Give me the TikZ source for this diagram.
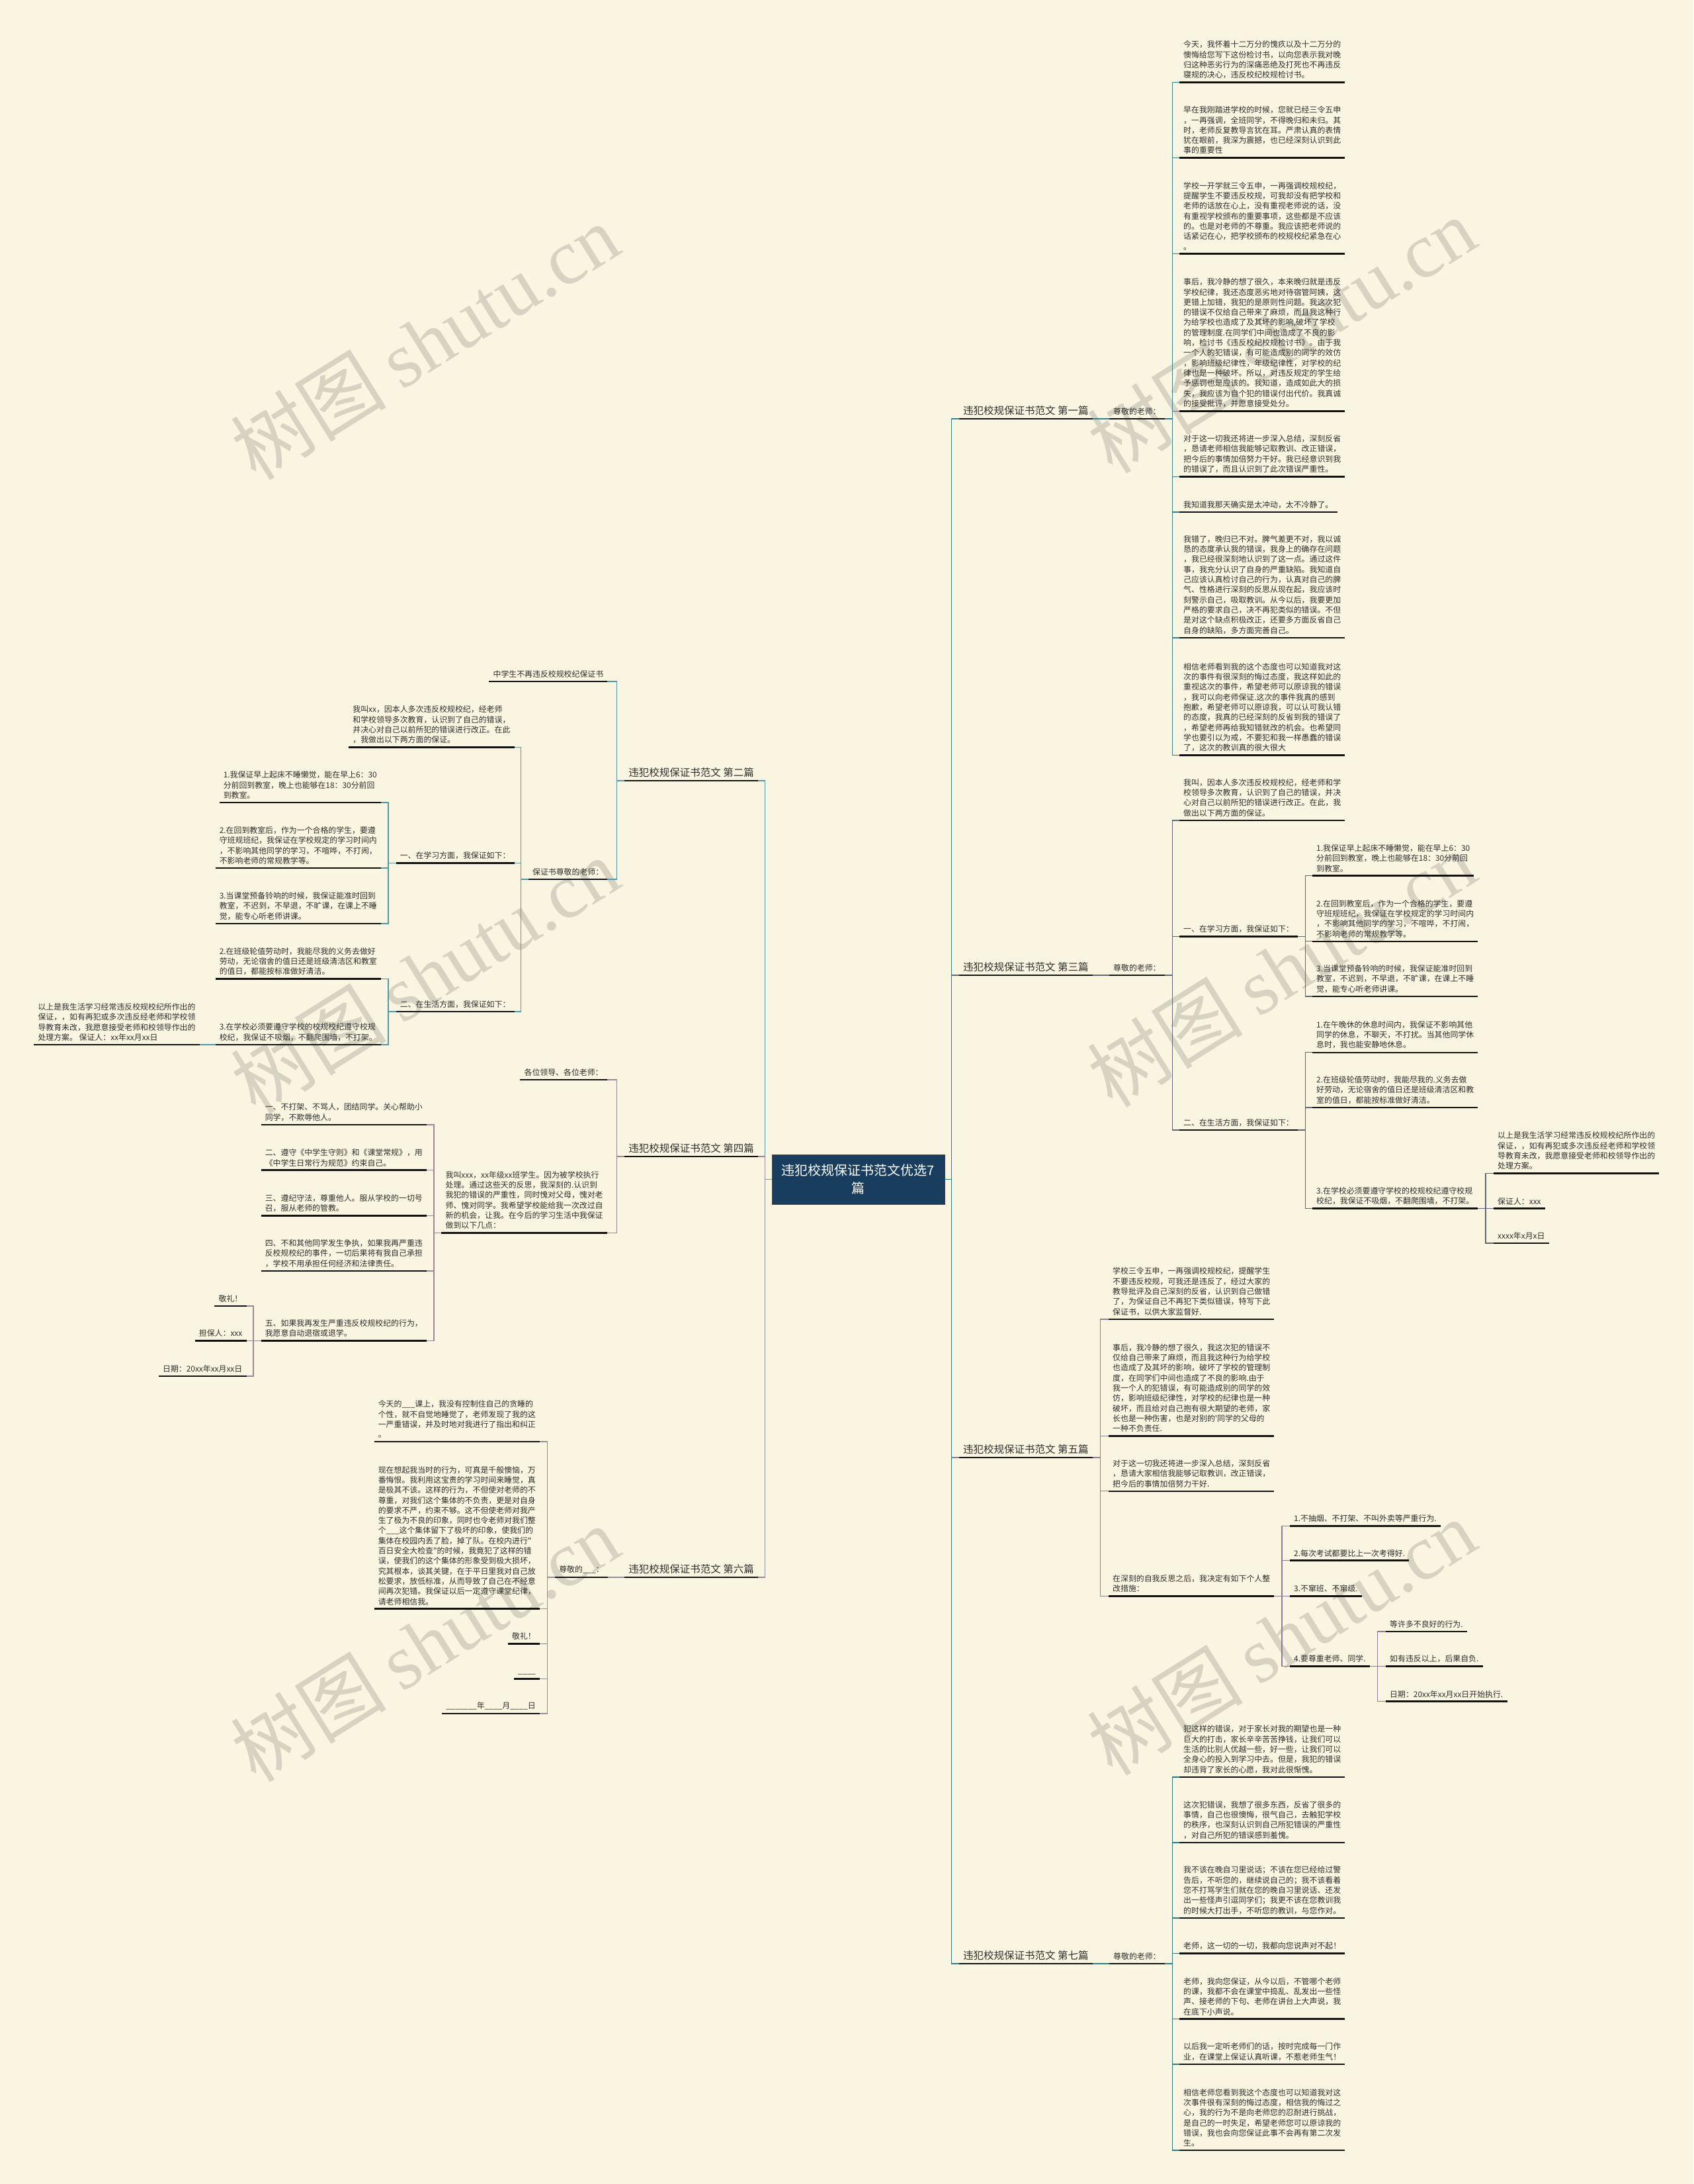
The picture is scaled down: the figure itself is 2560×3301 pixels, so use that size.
\documentclass[tikz,border=0pt]{standalone}
\usepackage{fontspec}
\newfontfamily\cjk{Noto Sans CJK SC}
\newfontfamily\wmserif{Liberation Serif}
\definecolor{bg}{HTML}{FAF5E0}
\definecolor{txt}{HTML}{2E2E2E}
\definecolor{ulc}{HTML}{111111}
\definecolor{rootc}{HTML}{183D5E}
\definecolor{cA}{HTML}{35808C}
\definecolor{cB}{HTML}{5297A3}
\definecolor{cC}{HTML}{5C6878}
\definecolor{cD}{HTML}{9C8599}
\definecolor{cE}{HTML}{8E7C98}
\definecolor{cF}{HTML}{8D8F9C}
\definecolor{cG}{HTML}{2D7B84}
\definecolor{wm}{HTML}{D6D3C2}
\newcommand\leaffont{\cjk\fontsize{11.9}{15.3}\selectfont}
\newcommand\rleaf[4]{\node[leaf,anchor=south west] (#1) at (#2,#3) {#4};}
\newcommand\lleaf[4]{\node[leaf,anchor=south east] (#1) at (#2,#3) {#4};}
\newcommand\linkr[3]{\draw[#1] (#2.south east) -- ++(11.5,0) |- (#3.south west);}
\newcommand\linkl[3]{\draw[#1] (#2.south west) -- ++(-11.5,0) |- (#3.south east);}
\tikzset{
 ul/.style={draw=ulc,line width=2.6pt},
 leaf/.style={font=\leaffont,text=txt,align=left,inner xsep=6pt,inner ysep=5.5pt,
   append after command={(\tikzlastnode.south west) edge[ul] (\tikzlastnode.south east)}},
 branch/.style={leaf,font=\cjk\fontsize{15.5}{18}\selectfont,inner ysep=5pt},
 con/.style={line width=1.3pt},
 rootbox/.style={fill=rootc,draw=black!75,line width=0.8pt,text=white,font=\cjk\fontsize{20}{27}\selectfont,align=center,minimum width=261pt,minimum height=75pt,inner sep=4pt},
 wmark/.style={text=wm,rotate=32,inner sep=0pt,font=\cjk\fontsize{118}{118}\selectfont}
}
\begin{document}
\begin{tikzpicture}[x=1pt,y=-1pt]
\useasboundingbox (0,0) rectangle (2560,3301);
\fill[bg] (0,0) rectangle (2560,3301);
% watermarks
\foreach \wx/\wy in {642/516,1937/506,642/1474,1937/1464,642/2484,1937/2474}
  \node[wmark] at (\wx,\wy) {树图\hspace{24pt}{\wmserif shutu.cn}};
% root
\node[rootbox] (root) at (1297.5,1782.5) {违犯校规保证书范文优选7\\篇};
% ===== 第一篇 =====
\node[branch,anchor=south west] (L1) at (1450,633) {违犯校规保证书范文 第一篇};
\rleaf{T1}{1677}{633}{尊敬的老师：}
\rleaf{a1}{1783}{124.6}{今天，我怀着十二万分的愧疚以及十二万分的\\懊悔给您写下这份检讨书，以向您表示我对晚\\归这种恶劣行为的深痛恶绝及打死也不再违反\\寝规的决心，违反校纪校规检讨书。}
\rleaf{a2}{1783}{238.6}{早在我刚踏进学校的时候，您就已经三令五申\\，一再强调，全班同学，不得晚归和未归。其\\时，老师反复教导言犹在耳。严肃认真的表情\\犹在眼前，我深为震撼，也已经深刻认识到此\\事的重要性}
\rleaf{a3}{1783}{383.5}{学校一开学就三令五申，一再强调校规校纪，\\提醒学生不要违反校规，可我却没有把学校和\\老师的话放在心上，没有重视老师说的话，没\\有重视学校颁布的重要事项，这些都是不应该\\的。也是对老师的不尊重。我应该把老师说的\\话紧记在心，把学校颁布的校规校纪紧急在心\\。}
\rleaf{a4}{1783}{621.3}{事后，我冷静的想了很久，本来晚归就是违反\\学校纪律，我还态度恶劣地对待宿管阿姨，这\\更错上加错，我犯的是原则性问题。我这次犯\\的错误不仅给自己带来了麻烦，而且我这种行\\为给学校也造成了及其坏的影响,破坏了学校\\的管理制度.在同学们中间也造成了不良的影\\响，检讨书《违反校纪校规检讨书》。由于我\\一个人的犯错误，有可能造成别的同学的效仿\\，影响班级纪律性，年级纪律性，对学校的纪\\律也是一种破坏。所以，对违反规定的学生给\\予惩罚也是应该的。我知道，造成如此大的损\\失，我应该为自个犯的错误付出代价。我真诚\\的接受批评，并愿意接受处分。}
\rleaf{a5}{1783}{720.5}{对于这一切我还将进一步深入总结，深刻反省\\，恳请老师相信我能够记取教训、改正错误，\\把今后的事情加倍努力干好。我已经意识到我\\的错误了，而且认识到了此次错误严重性。}
\rleaf{a6}{1783}{774}{我知道我那天确实是太冲动，太不冷静了。}
\rleaf{a7}{1783}{964}{我错了，晚归已不对。脾气差更不对，我以诚\\恳的态度承认我的错误，我身上的确存在问题\\，我已经很深刻地认识到了这一点。通过这件\\事，我充分认识了自身的严重缺陷。我知道自\\己应该认真检讨自己的行为，认真对自己的脾\\气、性格进行深刻的反思从现在起，我应该时\\刻警示自己，吸取教训。从今以后，我要更加\\严格的要求自己，决不再犯类似的错误。不但\\是对这个缺点积极改正，还要多方面反省自己\\自身的缺陷，多方面完善自己。}
\rleaf{a8}{1783}{1141.7}{相信老师看到我的这个态度也可以知道我对这\\次的事件有很深刻的悔过态度，我这样如此的\\重视这次的事件，希望老师可以原谅我的错误\\，我可以向老师保证.这次的事件我真的感到\\抱歉，希望老师可以原谅我，可以认可我认错\\的态度，我真的已经深刻的反省到我的错误了\\，希望老师再给我知错就改的机会。也希望同\\学也要引以为戒，不要犯和我一样愚蠢的错误\\了，这次的教训真的很大很大}
% ===== 第三篇 =====
\node[branch,anchor=south west] (L3) at (1450,1474) {违犯校规保证书范文 第三篇};
\rleaf{T3}{1677}{1474}{尊敬的老师：}
\rleaf{c0}{1783}{1240}{我叫，因本人多次违反校规校纪，经老师和学\\校领导多次教育，认识到了自己的错误，并决\\心对自己以前所犯的错误进行改正。在此，我\\做出以下两方面的保证。}
\rleaf{cS}{1783}{1415.6}{一、在学习方面，我保证如下：}
\rleaf{cL}{1783}{1708}{二、在生活方面，我保证如下：}
\rleaf{cS1}{1984}{1323.7}{1.我保证早上起床不睡懒觉，能在早上6：30\\分前回到教室，晚上也能够在18：30分前回\\到教室。}
\rleaf{cS2}{1984}{1422.8}{2.在回到教室后，作为一个合格的学生，要遵\\守班规班纪，我保证在学校规定的学习时间内\\，不影响其他同学的学习，不喧哗，不打闹，\\不影响老师的常规教学等。}
\rleaf{cS3}{1984}{1506}{3.当课堂预备铃响的时候，我保证能准时回到\\教室，不迟到，不早退，不旷课，在课上不睡\\觉，能专心听老师讲课。}
\rleaf{cL1}{1984}{1590.8}{1.在午晚休的休息时间内，我保证不影响其他\\同学的休息，不聊天，不打扰。当其他同学休\\息时，我也能安静地休息。}
\rleaf{cL2}{1984}{1674}{2.在班级轮值劳动时，我能尽我的.义务去做\\好劳动，无论宿舍的值日还是班级清洁区和教\\室的值日，都能按标准做好清洁。}
\rleaf{cL3}{1984}{1826.7}{3.在学校必须要遵守学校的校规校纪遵守校规\\校纪，我保证不吸烟，不翻爬围墙，不打架。}
\rleaf{cX1}{2258}{1773.3}{以上是我生活学习经常违反校规校纪所作出的\\保证，，如有再犯或多次违反经老师和学校领\\导教育未改，我愿意接受老师和校领导作出的\\处理方案。}
\rleaf{cX2}{2258}{1826.7}{保证人：xxx}
\rleaf{cX3}{2258}{1879}{xxxx年x月x日}
% ===== 第五篇 =====
\node[branch,anchor=south west] (L5) at (1450,2203) {违犯校规保证书范文 第五篇};
\rleaf{e1}{1676}{1994}{学校三令五申，一再强调校规校纪，提醒学生\\不要违反校规，可我还是违反了，经过大家的\\教导批评及自己深刻的反省，认识到自己做错\\了，为保证自己不再犯下类似错误，特写下此\\保证书，以供大家监督好.}
\rleaf{e2}{1676}{2170.4}{事后，我冷静的想了很久，我这次犯的错误不\\仅给自己带来了麻烦，而且我这种行为给学校\\也造成了及其坏的影响，破坏了学校的管理制\\度，在同学们中间也造成了不良的影响.由于\\我一个人的犯错误，有可能造成别的同学的效\\仿，影响班级纪律性，对学校的纪律也是一种\\破坏，而且给对自己抱有很大期望的老师，家\\长也是一种伤害，也是对别的'同学的父母的\\一种不负责任.}
\rleaf{e3}{1676}{2253.8}{对于这一切我还将进一步深入总结，深刻反省\\，恳请大家相信我能够记取教训，改正错误，\\把今后的事情加倍努力干好.}
\rleaf{e4}{1676}{2412.3}{在深刻的自我反思之后，我决定有如下个人整\\改措施：}
\rleaf{e41}{1950}{2306.5}{1.不抽烟、不打架、不叫外卖等严重行为.}
\rleaf{e42}{1950}{2358.7}{2.每次考试都要比上一次考得好.}
\rleaf{e43}{1950}{2412.3}{3.不窜班、不窜级.}
\rleaf{e44}{1950}{2518.6}{4.要尊重老师、同学.}
\rleaf{e441}{2095}{2465.9}{等许多不良好的行为.}
\rleaf{e442}{2095}{2518.6}{如有违反以上，后果自负.}
\rleaf{e443}{2095}{2571.7}{日期：20xx年xx月xx日开始执行.}
% ===== 第七篇 =====
\node[branch,anchor=south west] (L7) at (1450,2968) {违犯校规保证书范文 第七篇};
\rleaf{T7}{1677}{2968}{尊敬的老师：}
\rleaf{g1}{1783}{2686}{犯这样的错误，对于家长对我的期望也是一种\\巨大的打击，家长辛辛苦苦挣钱，让我们可以\\生活的比别人优越一些，好一些，让我们可以\\全身心的投入到学习中去。但是，我犯的错误\\却违背了家长的心愿，我对此很惭愧。}
\rleaf{g2}{1783}{2785}{这次犯错误，我想了很多东西，反省了很多的\\事情，自己也很懊悔，很气自己，去触犯学校\\的秩序，也深刻认识到自己所犯错误的严重性\\，对自己所犯的错误感到羞愧。}
\rleaf{g3}{1783}{2899}{我不该在晚自习里说话；不该在您已经给过警\\告后，不听您的，继续说自己的；我不该看着\\您不打骂学生们就在您的晚自习里说话、还发\\出一些怪声引逗同学们；我更不该在您教训我\\的时候大打出手，不听您的教训，与您作对。}
\rleaf{g4}{1783}{2952.3}{老师，这一切的一切，我都向您说声对不起！}
\rleaf{g5}{1783}{3051.7}{老师，我向您保证，从今以后，不管哪个老师\\的课，我都不会在课堂中捣乱、乱发出一些怪\\声、接老师的下句、老师在讲台上大声说，我\\在底下小声说。}
\rleaf{g6}{1783}{3120}{以后我一定听老师们的话，按时完成每一门作\\业，在课堂上保证认真听课，不惹老师生气！}
\rleaf{g7}{1783}{3250}{相信老师您看到我这个态度也可以知道我对这\\次事件很有深刻的悔过态度，相信我的悔过之\\心，我的行为不是向老师您的忍耐进行挑战，\\是自己的一时失足，希望老师您可以原谅我的\\错误，我也会向您保证此事不会再有第二次发\\生。}
% ===== 第二篇 =====
\node[branch,anchor=south east] (L2) at (1146,1180) {违犯校规保证书范文 第二篇};
\lleaf{b1}{918.4}{1030}{中学生不再违反校规校纪保证书}
\lleaf{b2}{918.4}{1329}{保证书尊敬的老师：}
\lleaf{b21}{777.6}{1129.7}{我叫xx，因本人多次违反校规校纪，经老师\\和学校领导多次教育，认识到了自己的错误，\\并决心对自己以前所犯的错误进行改正。在此\\，我做出以下两方面的保证。}
\lleaf{b22}{777.6}{1304.5}{一、在学习方面，我保证如下：}
\lleaf{b23}{777.6}{1529}{二、在生活方面，我保证如下：}
\lleaf{b221}{576}{1213}{1.我保证早上起床不睡懒觉，能在早上6：30\\分前回到教室，晚上也能够在18：30分前回\\到教室。}
\lleaf{b222}{576}{1312}{2.在回到教室后，作为一个合格的学生，要遵\\守班规班纪，我保证在学校规定的学习时间内\\，不影响其他同学的学习，不喧哗，不打闹，\\不影响老师的常规教学等。}
\lleaf{b223}{576}{1396}{3.当课堂预备铃响的时候，我保证能准时回到\\教室，不迟到，不早退，不旷课，在课上不睡\\觉，能专心听老师讲课。}
\lleaf{b231}{576}{1479.7}{2.在班级轮值劳动时，我能尽我的义务去做好\\劳动，无论宿舍的值日还是班级清洁区和教室\\的值日，都能按标准做好清洁。}
\lleaf{b232}{576}{1579}{3.在学校必须要遵守学校的校规校纪遵守校规\\校纪，我保证不吸烟，不翻爬围墙，不打架。}
\lleaf{b2321}{301.7}{1579}{以上是我生活学习经常违反校规校纪所作出的\\保证，，如有再犯或多次违反经老师和学校领\\导教育未改，我愿意接受老师和校领导作出的\\处理方案。 保证人：xx年xx月xx日}
% ===== 第四篇 =====
\node[branch,anchor=south east] (L4) at (1146,1748) {违犯校规保证书范文 第四篇};
\lleaf{d1}{917.8}{1632}{各位领导、各位老师：}
\lleaf{d2}{917.8}{1863.3}{我叫xxx，xx年级xx班学生。因为被学校执行\\处理。通过这些天的反思，我深刻的.认识到\\我犯的错误的严重性，同时愧对父母，愧对老\\师、愧对同学。我希望学校能给我一次改过自\\新的机会，让我。在今后的学习生活中我保证\\做到以下几点：}
\lleaf{d21}{645}{1700}{一、不打架、不骂人，团结同学。关心帮助小\\同学，不欺辱他人。}
\lleaf{d22}{645}{1768.7}{二、遵守《中学生守则》和《课堂常规》，用\\《中学生日常行为规范》约束自己。}
\lleaf{d23}{645}{1837.3}{三、遵纪守法，尊重他人。服从学校的一切号\\召，服从老师的管教。}
\lleaf{d24}{645}{1921}{四、不和其他同学发生争执，如果我再严重违\\反校规校纪的事件，一切后果将有我自己承担\\，学校不用承担任何经济和法律责任。}
\lleaf{d25}{645}{2026.5}{五、如果我再发生严重违反校规校纪的行为，\\我愿意自动退宿或退学。}
\lleaf{d251}{372.5}{1974}{敬礼！}
\lleaf{d252}{372.5}{2026.5}{担保人：xxx}
\lleaf{d253}{372.5}{2080}{日期：20xx年xx月xx日}
% ===== 第六篇 =====
\node[branch,anchor=south east] (L6) at (1146,2384) {违犯校规保证书范文 第六篇};
\lleaf{f0}{919}{2384}{尊敬的\_\_\_：}
\lleaf{f1}{816}{2179}{今天的\_\_\_课上，我没有控制住自己的贪睡的\\个性，就不自觉地睡觉了，老师发现了我的这\\一严重错误，并及时地对我进行了指出和纠正\\。}
\lleaf{f2}{816}{2431.7}{现在想起我当时的行为，可真是千般懊恼，万\\番悔恨。我利用这宝贵的学习时间来睡觉，真\\是极其不该。这样的行为，不但使对老师的不\\尊重，对我们这个集体的不负责，更是对自身\\的要求不严，约束不够。这不但使老师对我产\\生了极为不良的印象，同时也令老师对我们整\\个\_\_\_这个集体留下了极坏的印象，使我们的\\集体在校园内丢了脸，掉了队。在校内进行"\\百日安全大检查"的时候，我竟犯了这样的错\\误，使我们的这个集体的形象受到极大损坏，\\究其根本，谈其关键，在于平日里我对自己放\\松要求，放低标准，从而导致了自己在不经意\\间再次犯错。我保证以后一定遵守课堂纪律，\\请老师相信我。}
\lleaf{f3}{816}{2484.3}{敬礼！}
\lleaf{f4}{816}{2537.3}{\_\_\_\_}
\lleaf{f5}{816}{2590}{\_\_\_\_\_\_\_年\_\_\_\_月\_\_\_\_日}
% ===== connectors =====
\draw[con,cA] (root.east) -- ++(10,0) |- (L1.south west);
\draw[con,cC] (root.east) -- ++(10,0) |- (L3.south west);
\draw[con,cE] (root.east) -- ++(10,0) |- (L5.south west);
\draw[con,cG] (root.east) -- ++(10,0) |- (L7.south west);
\draw[con,cB] (root.west) -- ++(-10,0) |- (L2.south east);
\draw[con,cD] (root.west) -- ++(-10,0) |- (L4.south east);
\draw[con,cF] (root.west) -- ++(-10,0) |- (L6.south east);
% 1
\draw[con,cA] (L1.south east) -- (T1.south west);
\foreach \n in {a1,a2,a3,a4,a5,a6,a7,a8} {\linkr{con,cA}{T1}{\n}}
% 3
\draw[con,cC] (L3.south east) -- (T3.south west);
\foreach \n in {c0,cS,cL} {\linkr{con,cC}{T3}{\n}}
\foreach \n in {cS1,cS2,cS3} {\linkr{con,cC}{cS}{\n}}
\foreach \n in {cL1,cL2,cL3} {\linkr{con,cC}{cL}{\n}}
\foreach \n in {cX1,cX2,cX3} {\linkr{con,cC}{cL3}{\n}}
% 5
\foreach \n in {e1,e2,e3,e4} {\linkr{con,cE}{L5}{\n}}
\foreach \n in {e41,e42,e43,e44} {\linkr{con,cE}{e4}{\n}}
\foreach \n in {e441,e442,e443} {\linkr{con,cE}{e44}{\n}}
% 7
\draw[con,cG] (L7.south east) -- (T7.south west);
\foreach \n in {g1,g2,g3,g4,g5,g6,g7} {\linkr{con,cG}{T7}{\n}}
% 2
\foreach \n in {b1,b2} {\linkl{con,cB}{L2}{\n}}
\foreach \n in {b21,b22,b23} {\linkl{con,cB}{b2}{\n}}
\foreach \n in {b221,b222,b223} {\linkl{con,cB}{b22}{\n}}
\foreach \n in {b231,b232} {\linkl{con,cB}{b23}{\n}}
\draw[con,cB] (b232.south west) -- (b2321.south east);
% 4
\foreach \n in {d1,d2} {\linkl{con,cD}{L4}{\n}}
\foreach \n in {d21,d22,d23,d24,d25} {\linkl{con,cD}{d2}{\n}}
\foreach \n in {d251,d252,d253} {\linkl{con,cD}{d25}{\n}}
% 6
\draw[con,cF] (L6.south west) -- (f0.south east);
\foreach \n in {f1,f2,f3,f4,f5} {\linkl{con,cF}{f0}{\n}}
\end{tikzpicture}
\end{document}
